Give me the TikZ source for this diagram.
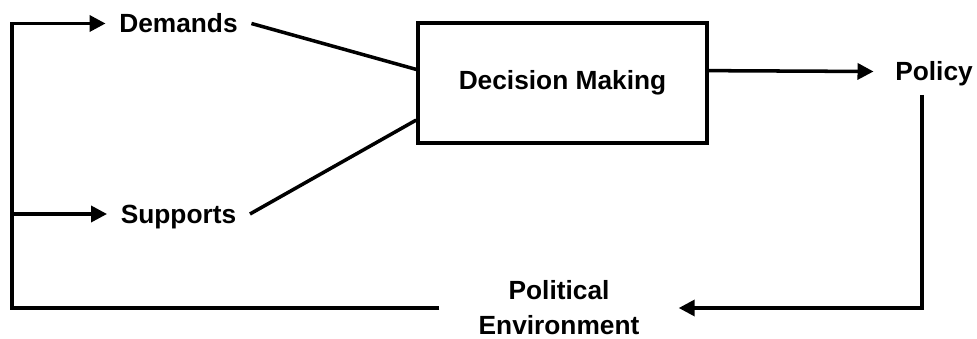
\documentclass[tikz,border=0pt]{standalone}
\usepackage{fontspec}
\setmainfont{Liberation Sans}
\usetikzlibrary{arrows.meta,calc}

\begin{document}
\begin{tikzpicture}[x=0.025cm,y=-0.025cm,line width=2.5pt,
  lbl/.style={font=\bfseries\fontsize{18.7}{22}\selectfont,inner ysep=0pt,inner xsep=0.3cm,
    text height=13.4pt,text depth=0pt},
  tip/.style={-{Triangle[length=0.4cm,width=0.4cm]}}]
\useasboundingbox (0,0) rectangle (977,339);
\node[lbl] (dem) at (178.5,23.5) {Demands};
\node[lbl] (sup) at (178.5,214) {Supports};
\node[lbl,draw,inner xsep=0pt,text depth=4.3pt,minimum width=7.225cm,minimum height=3cm] (dm) at (562.5,83) {Decision Making};
\node[lbl,inner xsep=0.5cm] (pol) at (934,71.5) {Policy};
\node[font=\bfseries\fontsize{18.7}{24.8}\selectfont,align=center,inner ysep=0pt,inner xsep=0.94cm] (env) at (559,308) {Political\\Environment};
\coordinate (corner) at (12,23.5);
\coordinate (drop) at (922,95);
\draw (dem.east) -- ($(dm.north west)!0.39!(dm.south west)$);
\draw (sup.east) -- ($(dm.north west)!0.8!(dm.south west)$);
\draw[tip] ($(dm.north east)!0.4!(dm.south east)$) -- (pol.west);
\draw[tip] (drop) |- (env.east);
\draw[tip] (env.west) -| (corner) -- (dem.west);
\draw[tip] (corner |- sup.west) -- (sup.west);
\end{tikzpicture}
\end{document}
